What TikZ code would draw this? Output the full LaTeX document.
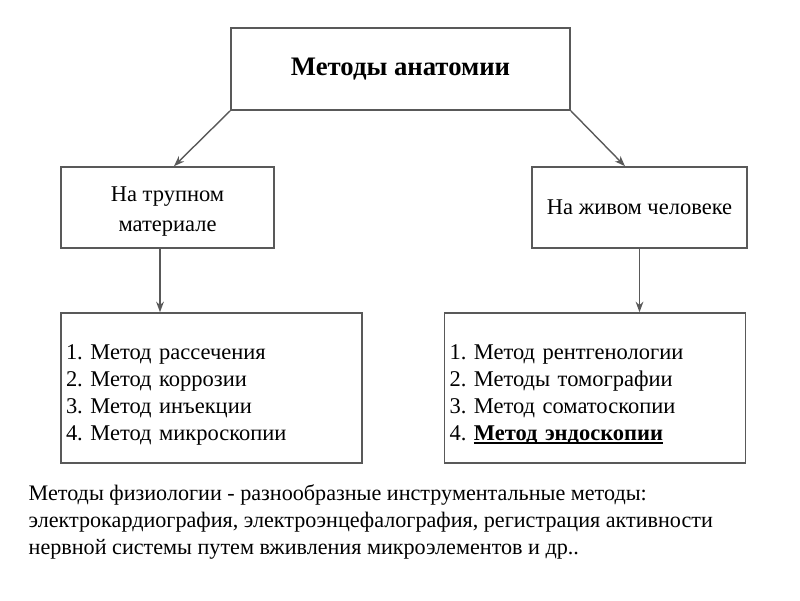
\documentclass[tikz,border=0pt]{standalone}
\usepackage{fontspec}
\setmainfont{Liberation Serif}
\usetikzlibrary{arrows.meta, positioning, calc}
\frenchspacing

\newlength\undlwd
\newcommand\undl[1]{\settowidth{\undlwd}{#1}\rlap{#1}\rule[-0.9pt]{\undlwd}{0.55pt}}

\begin{document}
\begin{tikzpicture}[
    box/.style={draw=black!65, line width=0.45pt, font=\fontsize{6.4}{7.7}\selectfont},
    listbox/.style={box, align=left, text width=2.91cm, inner xsep=0.05cm, minimum height=1.5cm},
    arr/.style={draw=black!65, line width=0.4pt, -{Stealth[length=3pt, width=2.2pt]}}
  ]
    \useasboundingbox (0,0) rectangle (8,6);

    % Top: methods of anatomy
    \node[box, minimum width=3.39cm, minimum height=0.82cm, font=\fontsize{7.6}{9}\selectfont\bfseries]
        (anat) at (4.005, 5.31) {Методы анатомии};

    % Second level
    \node[box, minimum width=2.13cm, minimum height=0.81cm, align=center, inner ysep=2pt]
        (trup) at (1.675, 3.925) {\rule{0pt}{6.5pt}На трупном\\[1pt]материале};
    \node[box, minimum width=2.15cm, minimum height=0.81cm]
        (zhiv) at (6.395, 3.925) {На живом человеке};

    % Lists of methods
    \node[listbox] (rass) at (2.115, 2.12)
        {\rule{0pt}{8pt}1. Метод рассечения\\2. Метод коррозии\\3. Метод инъекции\\4. Метод микроскопии};
    \node[listbox] (rent) at (5.95, 2.12)
        {\rule{0pt}{8pt}1. Метод рентгенологии\\2. Методы томографии\\3. Метод соматоскопии\\4. \undl{\textbf{Метод эндоскопии}}};

    % Arrows
    \draw[arr] (anat.south west) -- ([xshift=0.065cm]trup.north);
    \draw[arr] (anat.south east) -- ([xshift=-0.145cm]zhiv.north);
    \draw[arr] ([xshift=-0.075cm]trup.south) -- ([xshift=-0.075cm]trup.south |- rass.north);
    \draw[arr] (zhiv.south) -- (zhiv.south |- rent.north);

    % Physiology note
    \node[anchor=west, align=left, inner sep=0pt, font=\fontsize{6.3}{7.7}\selectfont] (fiz) at (0.28, 0.78)
        {Методы физиологии - разнообразные инструментальные методы:\\
         электрокардиография, электроэнцефалография, регистрация активности\\
         нервной системы путем вживления микроэлементов и др..};
\end{tikzpicture}
\end{document}
